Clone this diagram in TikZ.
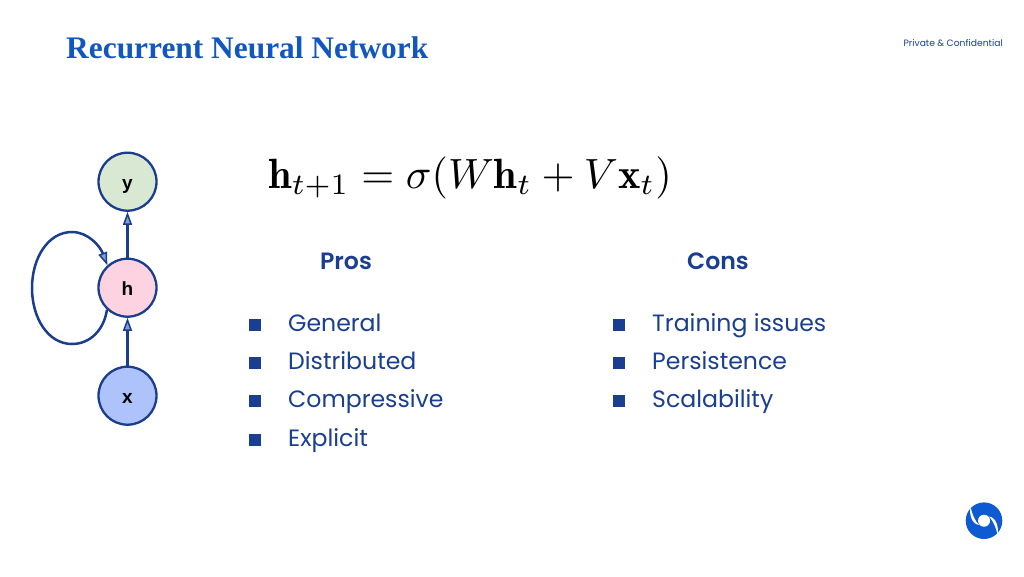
\documentclass[tikz,border=0pt]{standalone}
\usepackage{fontspec}
\usepackage{amsmath}
\newfontfamily\bodyfont{Poppins}
\newfontfamily\headfont{Poppins SemiBold}
\newfontfamily\labelfont{Liberation Sans}
\newfontfamily\titlefont{Liberation Serif}
\usetikzlibrary{arrows.meta}
\definecolor{navy}{HTML}{1A3F91}
\definecolor{line}{HTML}{1B3E8C}
\definecolor{titleblue}{HTML}{1257C0}
\definecolor{logoblue}{HTML}{0F5AD2}
\definecolor{ygreen}{HTML}{D9E8D3}
\definecolor{hpink}{HTML}{FDD3E2}
\definecolor{xblue}{HTML}{AEC3FB}
\newcommand{\neuronlabel}[1]{\raisebox{-7.7pt}[0pt][0pt]{#1}}
\tikzset{
  x=1pt,y=-1pt,
  neuron/.style={circle,draw=line,line width=2.3pt,minimum size=58pt,inner sep=0pt,font=\labelfont\bfseries\fontsize{19}{19}\selectfont,text=black},
  conn/.style={draw=line,line width=2.5pt,-{Triangle[open,fill=xblue!70!line,length=13pt,width=9pt,line width=1.5pt]}},
  body/.style={anchor=base west,text=navy,inner sep=0pt,font=\bodyfont\fontsize{23.6}{24}\selectfont},
  head/.style={anchor=base,text=navy,inner sep=0pt,font=\headfont\fontsize{23.6}{24}\selectfont},
  bul/.style={fill=navy,minimum size=11.5pt,inner sep=0pt,draw=none}
}
\begin{document}
\begin{tikzpicture}
\useasboundingbox (0,0) rectangle (1024,576);
\fill[white] (0,0) rectangle (1024,576);
\node[anchor=base west,inner sep=0pt,text=titleblue,font=\titlefont\bfseries\fontsize{31.4}{32}\selectfont] (title) at (66,58) {Recurrent Neural Network};
\node[anchor=base east,inner sep=0pt,text=navy,font=\bodyfont\fontsize{9.2}{10}\selectfont] (conf) at (1003,46) {Private \& Confidential};
\node[neuron,fill=ygreen] (y) at (127.5,181.7) {\neuronlabel{y}};
\node[neuron,fill=hpink] (h) at (127.5,287.7) {\neuronlabel{h}};
\node[neuron,fill=xblue] (x) at (127.5,395.7) {\neuronlabel{x}};
\draw[conn] (x) -- (h);
\draw[conn] (h) -- (y);
\draw[conn] (h.227) .. controls (104,330) and (90,344) .. (72,344) .. controls (48,344) and (32,318) .. (32,288) .. controls (32,258) and (48,232) .. (72,232) .. controls (88,232) and (100,246) .. (h.132);
\node[inner sep=0pt,anchor=base,scale=4.23] (eq) at (470,188) {$\mathbf{h}_{t+1}=\sigma(W\mathbf{h}_t+V\mathbf{x}_t)$};
\node[head] (pros) at (346,269) {Pros};
\node[head] (cons) at (718,269) {Cons};
\node[body] (p1) at (288,331) {General};
\node[body] (p2) at (288,369) {Distributed};
\node[body] (p3) at (288,407) {Compressive};
\node[body] (p4) at (288,446) {Explicit};
\node[body] (c1) at (652,331) {Training issues};
\node[body] (c2) at (652,369) {Persistence};
\node[body] (c3) at (652,407) {Scalability};
\foreach \n/\xx/\yy in {b1/255/325,b2/255/363,b3/255/401,b4/255/440,d1/619/325,d2/619/363,d3/619/401}
  \node[bul] (\n) at (\xx,\yy) {};
% logo
\fill[logoblue] (984,520.7) circle (18.3);
\fill[white] (984,520.7) circle (6);
\fill[white] (970.5,507) .. controls (969,515) and (972,524) .. (979,525) .. controls (975,521) and (972,514) .. (970.5,507) -- cycle;
\fill[white] (997.5,534.5) .. controls (999,526.5) and (996,517.5) .. (989,516.5) .. controls (993,520.5) and (996,527.5) .. (997.5,534.5) -- cycle;
\end{tikzpicture}
\end{document}
